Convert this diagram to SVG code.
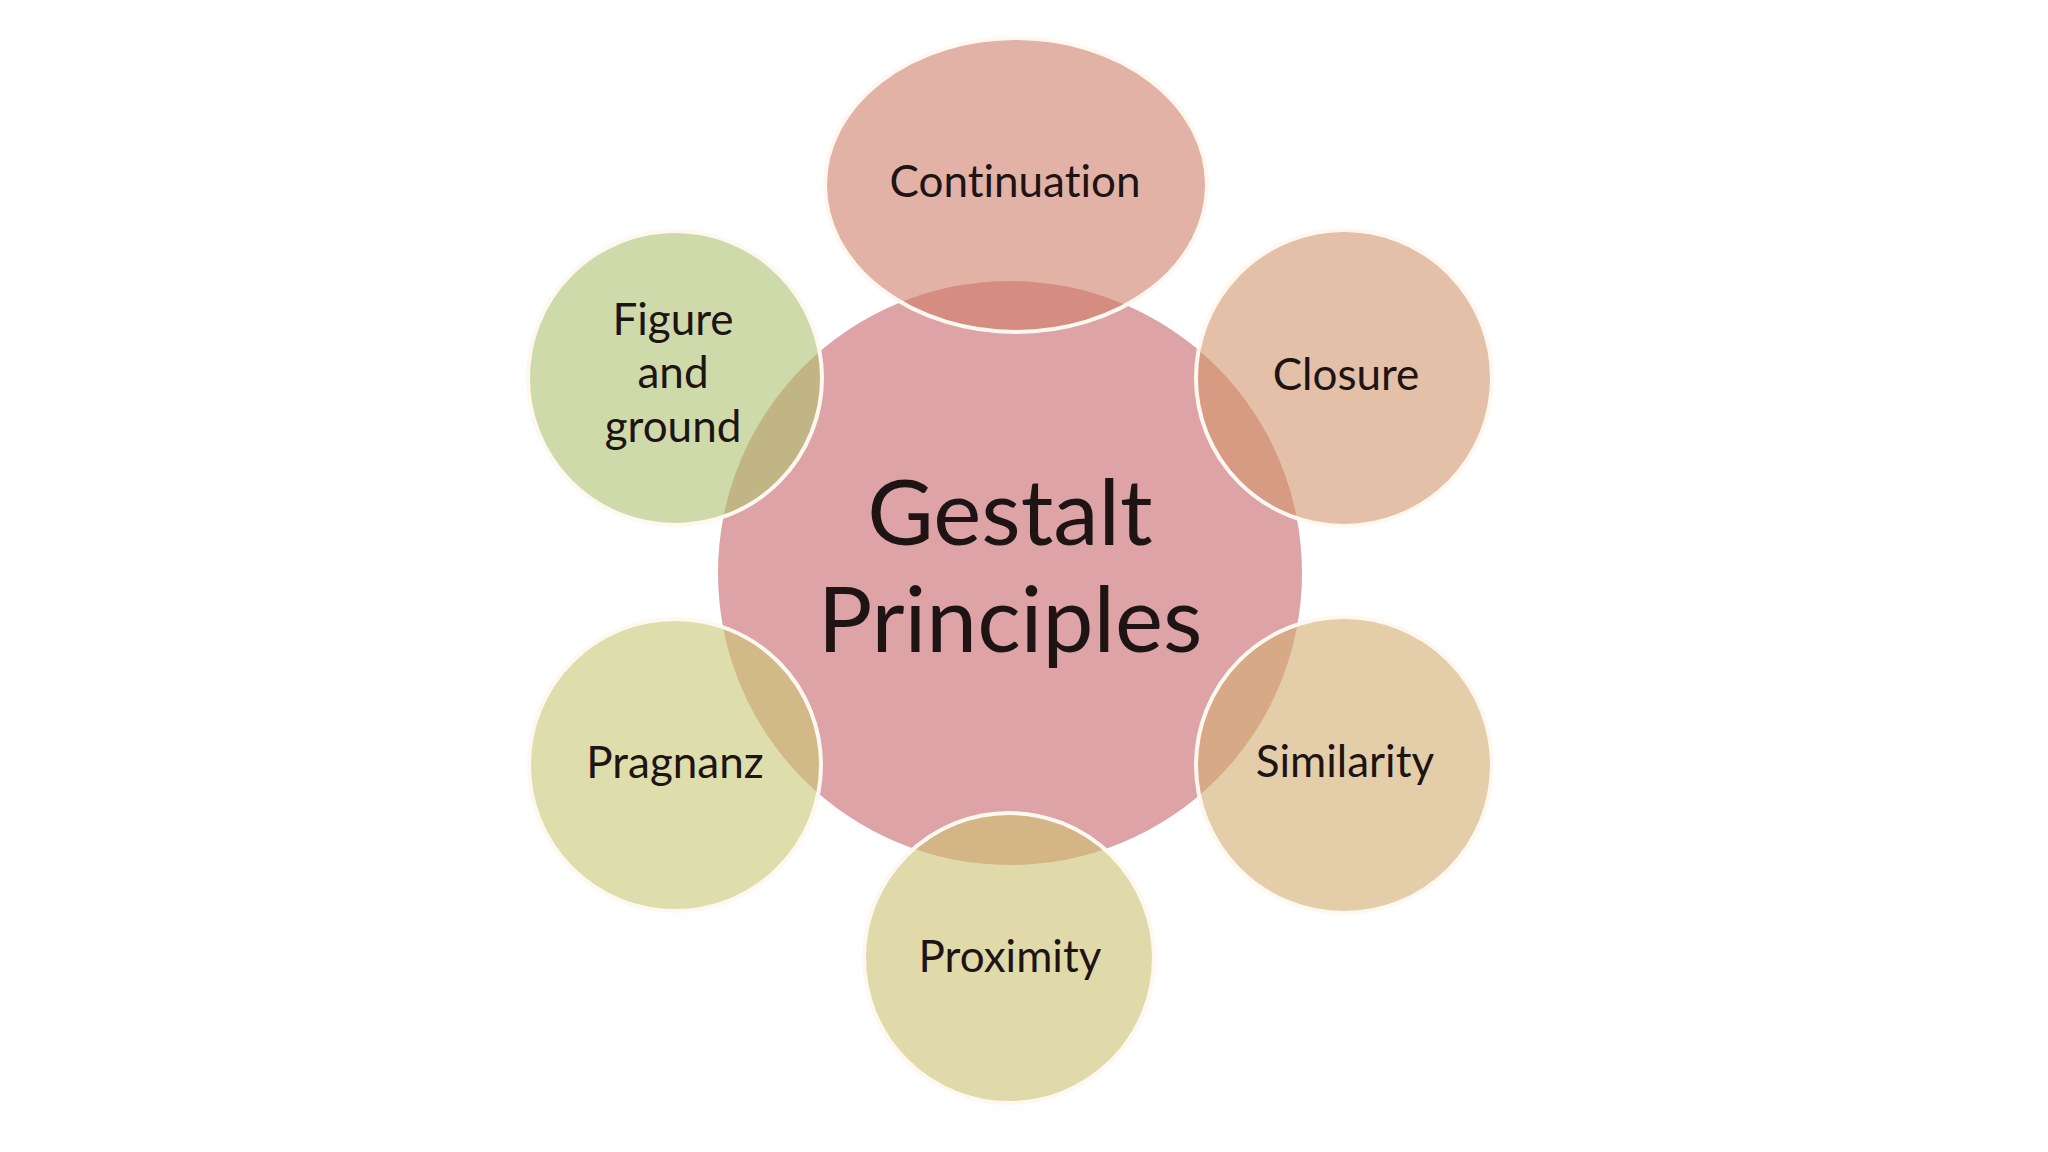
<svg xmlns="http://www.w3.org/2000/svg" width="2048" height="1152" viewBox="0 0 2048 1152">
<style>
.sat { stroke: #FFF8F0; stroke-width: 4; fill-opacity: 0.6; }
.lbl { font-family: Lato, "Open Sans", "Liberation Sans", sans-serif; font-size: 44px; fill: #1E1414; text-anchor: middle; font-variant-ligatures: none; }
.big { font-family: Lato, "Open Sans", "Liberation Sans", sans-serif; font-size: 91px; fill: #1E1414; text-anchor: middle; font-variant-ligatures: none; }
</style>
<rect x="0" y="0" width="2048" height="1152" fill="#FFFFFF"/>
<g id="center">
  <circle cx="1010" cy="573" r="292" fill="#DEA3A6"/>
  <text class="big" x="1010" y="545">Gestalt</text>
  <text class="big" x="1010" y="652">Principles</text>
</g>
<g id="connectors"></g>
<g id="continuation">
  <ellipse class="sat" cx="1016" cy="185" rx="191" ry="147" fill="#CF7F6B"/>
  <text class="lbl" x="1015" y="197">Continuation</text>
</g>
<g id="figure-ground">
  <circle class="sat" cx="675" cy="378" r="147" fill="#ADC171"/>
  <text class="lbl" x="673" y="335">Figure</text>
  <text class="lbl" x="673" y="388">and</text>
  <text class="lbl" x="673" y="442">ground</text>
</g>
<g id="closure">
  <circle class="sat" cx="1344" cy="378" r="148" fill="#D2966E"/>
  <text class="lbl" x="1346" y="390">Closure</text>
</g>
<g id="pragnanz">
  <circle class="sat" cx="675" cy="765" r="146" fill="#C8C875"/>
  <text class="lbl" x="675" y="778">Pragnanz</text>
</g>
<g id="similarity">
  <circle class="sat" cx="1344" cy="765" r="148" fill="#D2AD71"/>
  <text class="lbl" x="1345" y="777">Similarity</text>
</g>
<g id="proximity">
  <circle class="sat" cx="1009" cy="958" r="145" fill="#CBC171"/>
  <text class="lbl" x="1010" y="972">Proximity</text>
</g>
</svg>
